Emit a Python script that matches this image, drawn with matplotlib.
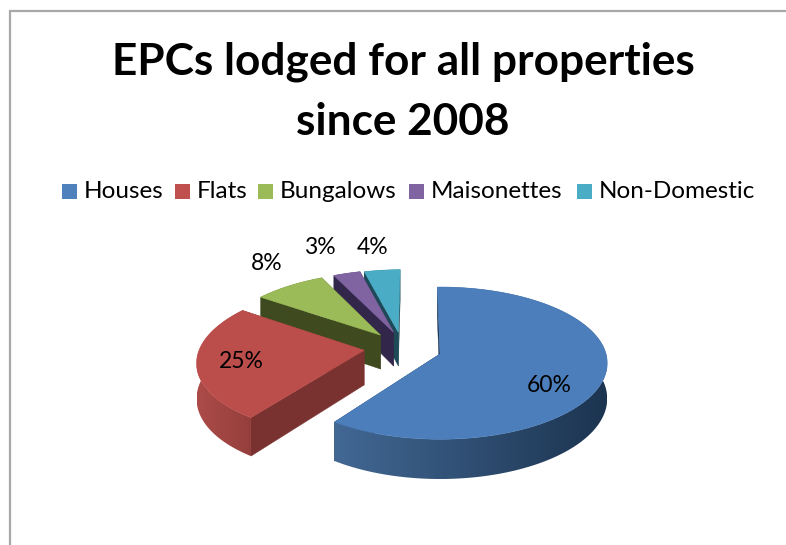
import numpy as np
import matplotlib
matplotlib.use('Agg')
import matplotlib.pyplot as plt
from matplotlib.patches import Polygon, Rectangle
from matplotlib.colors import to_rgb

# Chart data
categories = ['Houses', 'Flats', 'Bungalows', 'Maisonettes', 'Non-Domestic']
shares = [60, 25, 8, 3, 4]

# Look of each slice
top_colors = ['#4c7ebb', '#bb4e4b', '#9bbb59', '#8064a2', '#4bacc6']
legend_colors = ['#4f81bd', '#c0504d', '#9bbb59', '#8064a2', '#4bacc6']
wall_left = ['#426894', '#ad4b48', '#3f4a1f', '#32274a', '#1e4a58']
wall_right = ['#1c3450', '#943f3d', '#3f4a1f', '#32274a', '#1e4a58']
radial_colors = ['#1d3550', '#7a3230', '#3f4a1f', '#32274a', '#1e4a58']

# Slice offsets in the plane of the pie
offsets = [(0, 0), (-0.46, 0.05), (-0.37, 0.26), (-0.29, 0.30), (-0.26, 0.30)]
label_xy = [(549, 385), (241, 362), (267, 264), (320, 247), (373, 247)]

# Legend layout, in pixels
legend_box_x = [62, 175, 258, 409, 577]
legend_text_x = [84, 197, 280, 431, 599]

# Pie projection, in pixels
CX, CY = 440, 354
RX, RY = 166, 75
PERSP = 0.12
DEPTH = 35
START = -1.0


def project(u, v):
    w = 1 + PERSP * v
    return CX + RX * u / w, CY - RY * v / w, DEPTH / w


def draw_slice(ax, a0, a1, off, i, z):
    ang = np.radians(np.linspace(a0, a1, max(int(a1 - a0) * 2, 8)))
    xs, ys, ds = project(off[0] + np.sin(ang), off[1] + np.cos(ang))
    px, py, pd = project(off[0], off[1])

    # radial walls
    for x, y, d in [(xs[0], ys[0], ds[0]), (xs[-1], ys[-1], ds[-1])]:
        ax.add_patch(Polygon([(px, py), (x, y), (x, y + d), (px, py + pd)],
                             fc=radial_colors[i], ec=radial_colors[i], lw=0.3, zorder=z))

    # outer wall, a left to right gradient clipped to the wall outline
    left = np.array(to_rgb(wall_left[i]))
    right = np.array(to_rgb(wall_right[i]))
    grad = np.linspace(0, 1, 256)[None, :, None] * (right - left)[None, None, :] + left
    wall = Polygon(list(zip(xs, ys)) + list(zip(xs[::-1], (ys + ds)[::-1])),
                   fc='none', ec='none', transform=ax.transData)
    ax.add_patch(wall)
    img = ax.imshow(grad, extent=[xs.min(), xs.max(), (ys + ds).max(), ys.min()],
                    aspect='auto', zorder=z + 0.1, interpolation='bilinear')
    img.set_clip_path(wall)

    # top face
    pts = [(px, py)] + list(zip(xs, ys))
    ax.add_patch(Polygon(pts, fc=top_colors[i], ec=top_colors[i], lw=0.4, zorder=z + 0.2))


fig = plt.figure(figsize=(7.86, 5.45), dpi=100)
ax = fig.add_axes([0, 0, 1, 1])
ax.axis('off')

# chart border, runs off the right and bottom of the picture
ax.plot([9.5, 9.5, 786], [545, 10.5, 10.5], color='#a8a8a8', lw=1.6, solid_joinstyle='miter')

# Slices, back to front
angles = START + np.cumsum([0] + shares) * 3.6
order = [4, 3, 2, 1, 0]
for z, i in enumerate(order):
    draw_slice(ax, angles[i], angles[i + 1], offsets[i], i, 2 + z)

ax.set_xlim(0, 786)
ax.set_ylim(545, 0)

for i, val in enumerate(shares):
    ax.text(label_xy[i][0], label_xy[i][1], f'{val}%', fontsize=16.5, family='Lato',
            ha='center', va='center', color='black', zorder=10)

ax.text(403, 62, 'EPCs lodged for all properties', fontsize=31.8, family='Lato',
        weight='bold', ha='center', va='center')
ax.text(403, 122, 'since 2008', fontsize=31.8, family='Lato',
        weight='bold', ha='center', va='center')

# Legend
for i, name in enumerate(categories):
    ax.add_patch(Rectangle((legend_box_x[i], 184), 15, 15, fc=legend_colors[i], ec='none'))
    ax.text(legend_text_x[i], 191, name, fontsize=17.5, family='Lato', ha='left', va='center')

plt.savefig('out.png', dpi=100)
